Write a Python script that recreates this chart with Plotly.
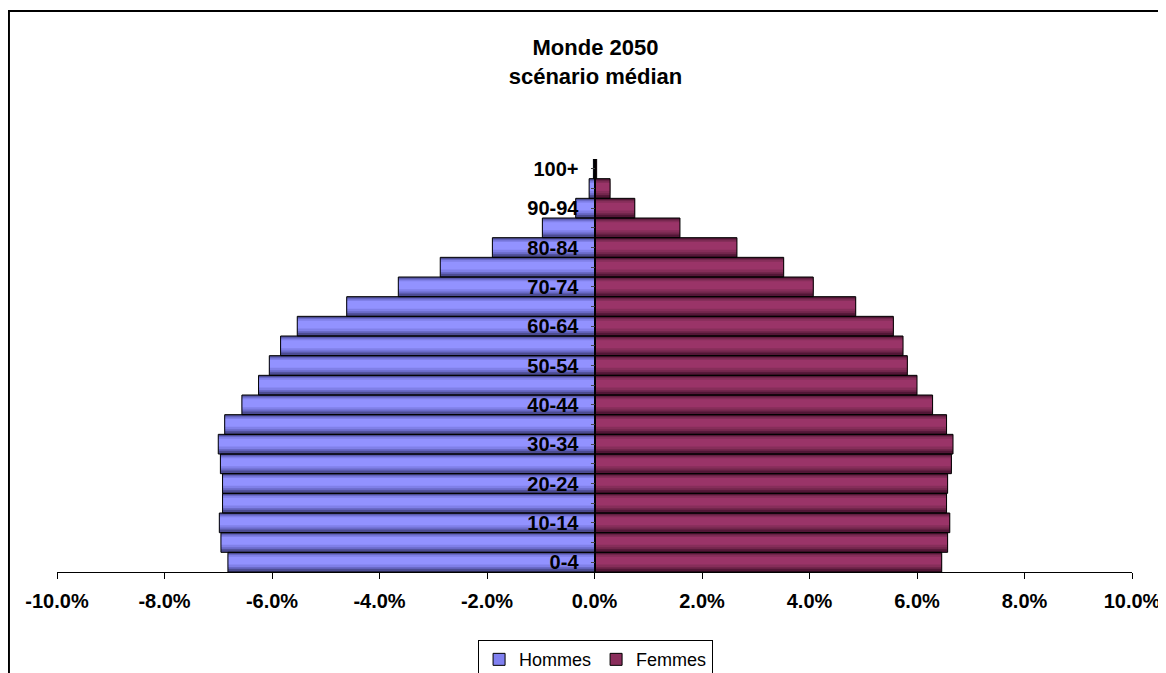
import plotly.graph_objects as go

# Tranches d'age (du bas vers le haut)
ages = ["0-4", "5-9", "10-14", "15-19", "20-24", "25-29", "30-34", "35-39",
        "40-44", "45-49", "50-54", "55-59", "60-64", "65-69", "70-74",
        "75-79", "80-84", "85-89", "90-94", "95-99", "100+"]

# Part de la population totale (%)
hommes = [6.82, 6.95, 6.98, 6.92, 6.92, 6.96, 7.00, 6.88, 6.56, 6.25,
          6.05, 5.84, 5.53, 4.61, 3.65, 2.87, 1.90, 0.97, 0.35, 0.10, 0.02]
femmes = [6.46, 6.57, 6.61, 6.55, 6.57, 6.64, 6.67, 6.55, 6.29, 6.00,
          5.82, 5.74, 5.56, 4.86, 4.07, 3.52, 2.65, 1.59, 0.75, 0.29, 0.04]

# libellés affichés une tranche sur deux
age_labels = [a if i % 2 == 0 else "" for i, a in enumerate(ages)]
x_ticks = [-10, -8, -6, -4, -2, 0, 2, 4, 6, 8, 10]

FONT = "Arial, 'Liberation Sans', sans-serif"

# dégradé façon Excel : (couleur, offset, largeur) du plus sombre au plus clair
blue_layers = [("#4c4c92", -0.5, 1.0), ("#6a6ac8", -0.34, 0.76), ("#8080e8", -0.24, 0.6),
               ("#9292ff", -0.12, 0.4)]
red_layers = [("#521636", -0.5, 1.0), ("#72264c", -0.34, 0.76), ("#862e5a", -0.24, 0.6),
              ("#9a3468", -0.12, 0.4)]

fig = go.Figure()

for vals, layers in ((hommes, blue_layers), (femmes, red_layers)):
    signed = [-v for v in vals] if vals is hommes else vals
    for color, off, w in layers:
        fig.add_trace(go.Bar(
            x=signed, y=ages, orientation="h",
            marker=dict(color=color, line=dict(width=0)),
            offset=off, width=w, showlegend=False, hoverinfo="skip",
        ))
    # contour noir
    fig.add_trace(go.Bar(
        x=signed, y=ages, orientation="h",
        marker=dict(color="rgba(0,0,0,0)", line=dict(color="black", width=1)),
        offset=-0.5, width=1.0, showlegend=False, hoverinfo="skip",
    ))

# entrées de légende
fig.add_trace(go.Bar(x=[None], y=[None], orientation="h", name="Hommes",
                     marker=dict(color="#8080f0", line=dict(color="black", width=1))))
fig.add_trace(go.Bar(x=[None], y=[None], orientation="h", name="Femmes",
                     marker=dict(color="#8a2e5c", line=dict(color="black", width=1))))

# la page ajoute 8 px de marge : tout est décalé en conséquence
fig.update_layout(
    width=1166, height=673,
    margin=dict(l=49, r=42, t=151, b=109, autoexpand=False),
    barmode="overlay",
    plot_bgcolor="white", paper_bgcolor="white",
    font=dict(family=FONT, color="black"),
    title=dict(text="<b>Monde 2050<br>scénario médian</b>", x=587.5 / 1166, xanchor="center",
               y=1 - 47 / 673, yanchor="middle", font=dict(size=22, family=FONT)),
    legend=dict(orientation="h", x=0.501, xanchor="center", y=-0.165, yanchor="top",
                bordercolor="black", borderwidth=1, font=dict(size=18),
                itemwidth=30, traceorder="normal", tracegroupgap=0),
    shapes=[dict(type="rect", xref="paper", yref="paper",
                 x0=-0.0447, x1=1.2, y0=-0.6, y1=1.3584,
                 line=dict(color="black", width=2), layer="below")],
)

fig.update_xaxes(
    range=[-10, 10], tickvals=x_ticks, ticktext=[f"{v:.1f}%" for v in x_ticks],
    showgrid=False, zeroline=False, showline=True, linecolor="black", linewidth=1,
    ticks="outside", ticklen=6, tickcolor="black", automargin=False, ticklabelstandoff=5,
    tickfont=dict(size=20, family=FONT, weight="bold"),
)
fig.update_yaxes(
    type="category", tickvals=ages, ticktext=age_labels,
    anchor="free", position=0.5, showgrid=False, zeroline=False,
    showline=True, linecolor="black", linewidth=1, automargin=False,
    ticks="outside", ticklen=4, tickcolor="#444", ticklabelstandoff=8,
    tickfont=dict(size=20, family=FONT, weight="bold"), range=[-0.5, 20.5],
)

fig.write_html("out.html")
